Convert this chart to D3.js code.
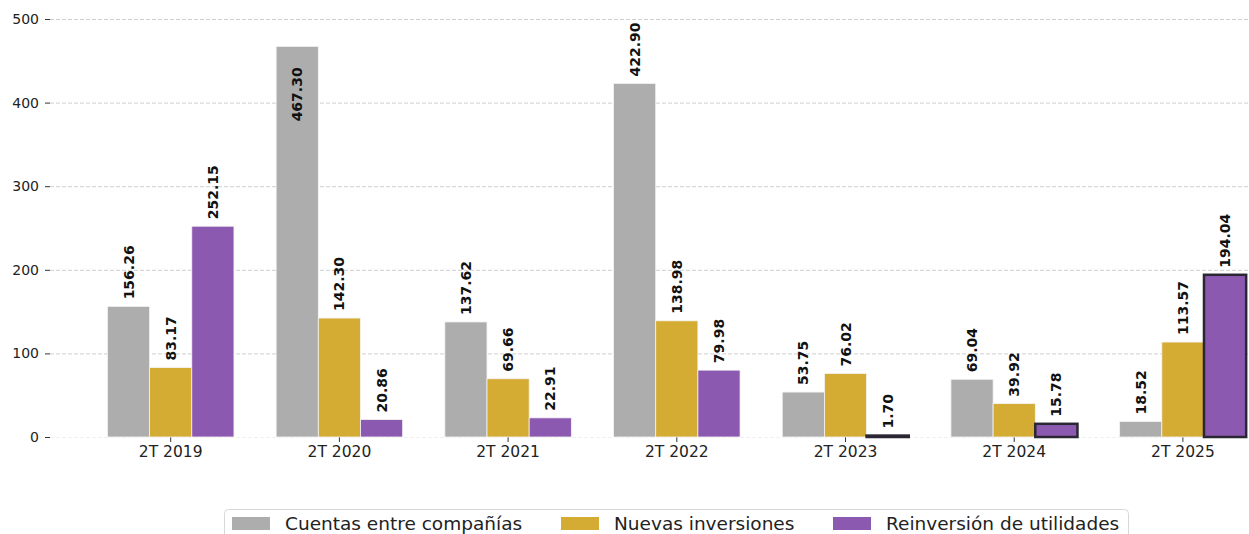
<!DOCTYPE html>
<html>
<head>
<meta charset="utf-8">
<script src="https://cdn.jsdelivr.net/npm/d3@7"></script>
<style>
  body { margin: 0; background: #fff; }
  svg { display: block; font-family: "DejaVu Sans", sans-serif; }
</style>
</head>
<body>
<svg id="chart" width="1249" height="534"></svg>
<script>
// data
var periods = ["2T 2019", "2T 2020", "2T 2021", "2T 2022", "2T 2023", "2T 2024", "2T 2025"];
var series = ["Cuentas entre compañías", "Nuevas inversiones", "Reinversión de utilidades"];
var cuentas = [156.26, 467.30, 137.62, 422.90, 53.75, 69.04, 18.52];
var nuevas = [83.17, 142.30, 69.66, 138.98, 76.02, 39.92, 113.57];
var reinversion = [252.15, 20.86, 22.91, 79.98, 1.70, 15.78, 194.04];
var yTicks = [0, 100, 200, 300, 400, 500];
// bars drawn with a dark outline in the reference
var outlined = ["2T 2023", "2T 2024", "2T 2025"];

var colors = ["#adadad", "#d4ac34", "#8c59b1"];
var values = [cuentas, nuevas, reinversion];

var svg = d3.select("#chart");

var x0 = d3.scaleBand()
  .domain(periods)
  .range([86.35, 1267.25])
  .paddingInner(0.25)
  .paddingOuter(0.125);

var x1 = d3.scaleBand()
  .domain(series)
  .range([0, x0.bandwidth()]);

var y = d3.scaleLinear()
  .domain([0, 500])
  .range([437, 19]);

// grid lines
svg.append("g")
  .selectAll("line")
  .data(yTicks)
  .enter().append("line")
  .attr("x1", 50)
  .attr("x2", 1249)
  .attr("y1", function(d) { return y(d) + 0.5; })
  .attr("y2", function(d) { return y(d) + 0.5; })
  .attr("stroke", function(d) { return d === 0 ? "#f0f0f0" : "#cfcfcf"; })
  .attr("stroke-width", 1)
  .attr("stroke-dasharray", "4,2");

// y axis
var yAxis = svg.append("g")
  .attr("transform", "translate(50,0)")
  .call(d3.axisLeft(y).tickValues(yTicks).tickSize(5).tickPadding(6).tickFormat(d3.format("d")));
yAxis.select(".domain").remove();
yAxis.selectAll("line").attr("stroke", "#333");
yAxis.selectAll("text").attr("font-size", 14).attr("fill", "#222").attr("font-family", "DejaVu Sans");

// x axis
var xAxis = svg.append("g")
  .attr("transform", "translate(0,437)")
  .call(d3.axisBottom(x0).tickSize(5).tickPadding(4));
xAxis.select(".domain").remove();
xAxis.selectAll("line").attr("stroke", "#333");
xAxis.selectAll("text").attr("font-size", 15.5).attr("fill", "#222").attr("font-family", "DejaVu Sans");

// rows for the grouped bars
var rows = periods.map(function(p, i) {
  return series.map(function(s, k) {
    return {period: p, key: s, k: k, value: values[k][i]};
  });
});

var groups = svg.append("g")
  .selectAll("g")
  .data(rows)
  .enter().append("g")
  .attr("transform", function(d) { return "translate(" + x0(d[0].period) + ",0)"; });

groups.selectAll("rect")
  .data(function(d) { return d; })
  .enter().append("rect")
  .attr("x", function(d) { return x1(d.key); })
  .attr("y", function(d) { return y(d.value); })
  .attr("width", x1.bandwidth())
  .attr("height", function(d) { return y(0) - y(d.value); })
  .attr("fill", function(d) { return colors[d.k]; })
  .attr("stroke", function(d) {
    return (d.k === 2 && outlined.indexOf(d.period) >= 0) ? "#2b2633" : "#f4f4f4";
  })
  .attr("stroke-width", function(d) {
    return (d.k === 2 && outlined.indexOf(d.period) >= 0) ? 2.5 : 0.8;
  });

// value labels, rotated
groups.selectAll("text")
  .data(function(d) { return d; })
  .enter().append("text")
  .attr("transform", function(d) {
    var cx = x1(d.key) + x1.bandwidth() / 2;
    var inside = y(d.value) - 62 < 0;
    var ty = inside ? y(d.value) + 21 : y(d.value) - 7;
    return "translate(" + cx + "," + ty + ") rotate(-90)";
  })
  .attr("text-anchor", function(d) { return y(d.value) - 62 < 0 ? "end" : "start"; })
  .attr("dy", "0.36em")
  .attr("font-size", 14)
  .attr("font-weight", "bold")
  .attr("fill", "#111")
  .text(function(d) { return d.value.toFixed(2); });

// legend
var legend = svg.append("g");
legend.append("rect")
  .attr("x", 224.5)
  .attr("y", 509.5)
  .attr("width", 904)
  .attr("height", 40)
  .attr("rx", 4)
  .attr("fill", "#fff")
  .attr("stroke", "#d8d8d8");

var legendX = [232, 561, 833];
var items = legend.selectAll("g.item")
  .data(series)
  .enter().append("g")
  .attr("class", "item")
  .attr("transform", function(d, i) { return "translate(" + legendX[i] + ",0)"; });

items.append("rect")
  .attr("x", 0)
  .attr("y", 517)
  .attr("width", 38)
  .attr("height", 13)
  .attr("fill", function(d, i) { return colors[i]; });

items.append("text")
  .attr("x", 53)
  .attr("y", 530)
  .attr("font-size", 18.5)
  .attr("fill", "#222")
  .text(function(d) { return d; });
</script>
</body>
</html>
